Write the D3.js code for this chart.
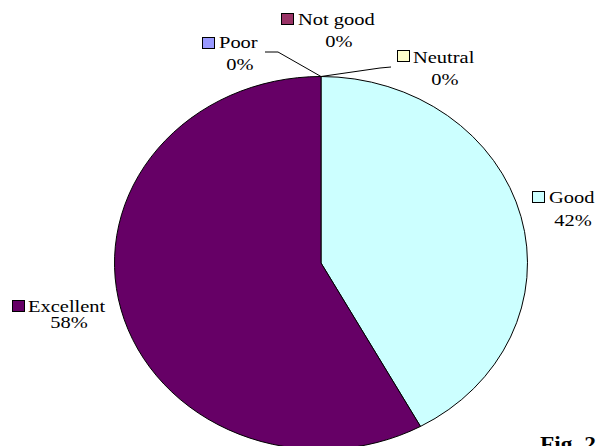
<!DOCTYPE html>
<html><head><meta charset="utf-8">
<script src="https://cdn.jsdelivr.net/npm/d3@7"></script>
<style>body{margin:0;background:#fff}svg{display:block}</style>
</head><body>
<script>
const categories = ["Good", "Excellent", "Poor", "Not good", "Neutral"];
const values = [42, 58, 0, 0, 0];
const colors = ["#CCFFFF", "#660066", "#9999FF", "#993366", "#FFFFCC"];
const percentLabels = ["42%", "58%", "0%", "0%", "0%"];
const figLabel = "Fig. 2";

const W = 599, H = 446;
const svg = d3.select("body").append("svg").attr("width", W).attr("height", H);
const cx = 321, cy = 263, rx = 206.5, ry = 186.5, R = 200;
const sx = 1.17;
const FONT = '"Liberation Serif"';

const pie = d3.pie().sort(null).value(d => d.v).startAngle(0).endAngle(2*Math.PI);
const data = categories.map((c,i)=>({c, v: values[i], col: colors[i], p: percentLabels[i]}));
const arcs = pie(data);
const arc = d3.arc().innerRadius(0).outerRadius(R);

const g = svg.append("g").attr("transform", `translate(${cx},${cy}) scale(${rx/R},${ry/R})`);
g.selectAll("path").data(arcs.filter(a => a.data.v > 0)).join("path")
  .attr("d", arc).attr("fill", d => d.data.col)
  .attr("stroke", "#000").attr("stroke-width", 1)
  .attr("vector-effect", "non-scaling-stroke");

const topPt = [cx, cy - ry];

const leaders = [
  [[265,52],[278,52],topPt],
  [[391,67],[380,68],topPt]
];
svg.selectAll("path.leader").data(leaders).join("path").attr("class","leader")
  .attr("d", d3.line()).attr("fill","none").attr("stroke","#000").attr("stroke-width",1);

const labelPos = {
  "Good":     {bx:532, by:191, tx:549, ty:203, px:573, py:226},
  "Excellent":{bx:12,  by:300, tx:28,  ty:312, px:69,  py:328},
  "Poor":     {bx:202, by:37,  tx:219, ty:48,  px:240, py:70},
  "Not good": {bx:281, by:13,  tx:298, ty:25,  px:339, py:47},
  "Neutral":  {bx:397, by:50,  tx:413, ty:63,  px:445, py:85}
};

const lab = svg.append("g");
data.forEach(d => {
  const p = labelPos[d.c];
  lab.append("rect").attr("x", p.bx+0.5).attr("y", p.by+0.5).attr("width", 12).attr("height", 11)
    .attr("fill", d.col).attr("stroke", "#000").attr("stroke-width", 1);
  lab.append("text").attr("transform", `translate(${p.tx},${p.ty}) scale(${sx},1)`)
    .style("font-family", FONT).style("font-size", "17.5px").attr("fill","#000").text(d.c);
  lab.append("text").attr("transform", `translate(${p.px},${p.py}) scale(${sx},1)`)
    .attr("text-anchor","middle")
    .style("font-family", FONT).style("font-size", "17.5px").attr("fill","#000").text(d.p);
});

svg.append("text").attr("transform", `translate(540,451) scale(${sx},1)`)
  .style("font-family", FONT).style("font-size", "20px").style("font-weight","bold").text(figLabel);
</script>
</body></html>
